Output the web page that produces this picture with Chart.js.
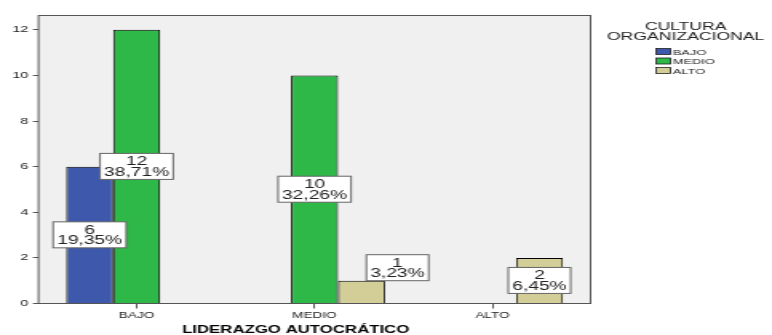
<!DOCTYPE html>
<html>
<head>
<meta charset="utf-8">
<script src="https://cdn.jsdelivr.net/npm/chart.js@4.4.0/dist/chart.umd.min.js"></script>
<style>
html, body { margin: 0; padding: 0; background: #fff; overflow: hidden; }
/* SPSS export is stretched sideways, so draw narrow and stretch the canvas */
#wrap { width: 483px; height: 335px; transform: scaleX(1.5983); transform-origin: 0 0; }
</style>
</head>
<body>
<div id="wrap"><canvas id="chart" width="483" height="335"></canvas></div>
<script>
// Data
const categories = ['BAJO', 'MEDIO', 'ALTO'];
const seriesNames = ['BAJO', 'MEDIO', 'ALTO'];
const bajoValues = [6, 0, 0];
const medioValues = [12, 10, 0];
const altoValues = [0, 1, 2];
const yTicks = [0, 2, 4, 6, 8, 10, 12];
const seriesColors = ['#3e58ac', '#2eb848', '#d3ce97'];
const xTitle = 'LIDERAZGO AUTOCRÁTICO';
const legendTitle = ['CULTURA', 'ORGANIZACIONAL'];

const FONT = 'Arial, "Liberation Sans", sans-serif';
const total = [...bajoValues, ...medioValues, ...altoValues].reduce((a, b) => a + b, 0);

// gray plot frame, a bit wider than the category area
const frameExtra = 5.7;
const framePlugin = {
    id: 'frame',
    beforeDatasetsDraw(chart) {
        const a = chart.chartArea;
        const ctx = chart.ctx;
        ctx.save();
        ctx.fillStyle = '#f0f0f0';
        ctx.fillRect(a.left - frameExtra, a.top, a.right - a.left + 2 * frameExtra, a.bottom - a.top);
        ctx.restore();
    },
    afterDatasetsDraw(chart) {
        const a = chart.chartArea;
        const ctx = chart.ctx;
        ctx.save();
        ctx.strokeStyle = '#555';
        ctx.lineWidth = 1;
        ctx.strokeRect(a.left - frameExtra, a.top + 0.5, a.right - a.left + 2 * frameExtra, a.bottom - a.top - 0.5);
        ctx.restore();
    }
};

// count + percent boxes
const labelPlugin = {
    id: 'barLabels',
    afterDatasetsDraw(chart) {
        const ctx = chart.ctx;
        ctx.save();
        ctx.font = '12px ' + FONT;
        ctx.textAlign = 'center';
        ctx.textBaseline = 'alphabetic';
        chart.data.datasets.forEach((ds, di) => {
            const meta = chart.getDatasetMeta(di);
            meta.data.forEach((bar, i) => {
                const v = ds.data[i];
                if (!v) return;
                const pct = (v / total * 100).toFixed(2).replace('.', ',') + '%';
                const w = ctx.measureText(pct).width + 5;
                const h = 26;
                const barH = bar.base - bar.y;
                let cx = bar.x;
                let cy = (bar.y + bar.base) / 2;
                if (barH < h) {
                    // too short: put the box above, next to the bar
                    cy = bar.y - h / 2;
                    cx = bar.x + 3 + w / 2;
                }
                ctx.fillStyle = '#fff';
                ctx.fillRect(cx - w / 2, cy - h / 2, w, h);
                ctx.strokeStyle = '#666';
                ctx.lineWidth = 1;
                ctx.strokeRect(cx - w / 2, cy - h / 2, w, h);
                ctx.fillStyle = '#222';
                ctx.fillText(String(v), cx, cy - 1);
                ctx.fillText(pct, cx, cy + 9.5);
            });
        });
        ctx.restore();
    }
};

// legend + axis title
const textPlugin = {
    id: 'texts',
    afterDraw(chart) {
        const ctx = chart.ctx;
        ctx.save();
        ctx.fillStyle = '#222';
        ctx.textAlign = 'center';
        ctx.textBaseline = 'alphabetic';
        ctx.font = '11px ' + FONT;
        ctx.fillText(legendTitle[0], 429, 30);
        ctx.fillText(legendTitle[1], 429, 39.5);

        ctx.textAlign = 'left';
        ctx.font = '8px ' + FONT;
        chart.data.datasets.forEach((ds, i) => {
            const y = 48.5 + i * 9.5;
            ctx.fillStyle = ds.backgroundColor;
            ctx.fillRect(410.5, y, 9, 6);
            ctx.strokeStyle = '#222';
            ctx.lineWidth = 0.8;
            ctx.strokeRect(410.5, y, 9, 6);
            ctx.fillStyle = '#222';
            ctx.fillText(ds.label, 421, y + 6.2);
        });

        ctx.textAlign = 'center';
        ctx.font = 'bold 10.5px ' + FONT;
        ctx.fillStyle = '#000';
        ctx.fillText(xTitle, 185, 333);
        ctx.restore();
    }
};

const seriesData = [bajoValues, medioValues, altoValues];

new Chart(document.getElementById('chart'), {
    type: 'bar',
    data: {
        labels: categories,
        datasets: seriesNames.map((name, i) => ({
            label: name,
            data: seriesData[i],
            backgroundColor: seriesColors[i],
            borderColor: '#000',
            borderWidth: 1,
            categoryPercentage: 0.792,
            barPercentage: 1
        }))
    },
    options: {
        responsive: false,
        animation: false,
        layout: {
            padding: { top: 15, right: 119.2, bottom: 0, left: 0 }
        },
        plugins: {
            legend: { display: false },
            tooltip: { enabled: false }
        },
        scales: {
            x: {
                offset: true,
                border: { display: false },
                grid: {
                    display: true,
                    drawOnChartArea: false,
                    offset: false,
                    tickLength: 5,
                    tickColor: '#555',
                    color: '#555'
                },
                ticks: {
                    font: { size: 8.5, family: FONT },
                    color: '#222',
                    padding: 2,
                    maxRotation: 0
                },
                afterFit(scale) { scale.height = 31.5; }
            },
            y: {
                min: 0,
                max: 12.65,
                border: { display: false },
                afterBuildTicks(scale) {
                    scale.ticks = yTicks.map(v => ({ value: v }));
                },
                grid: {
                    drawOnChartArea: false,
                    tickLength: 9.2,
                    tickColor: '#555',
                    color: '#555'
                },
                ticks: {
                    font: { size: 9, family: FONT },
                    color: '#222',
                    padding: 2.8
                },
                afterFit(scale) { scale.width = 29.8; }
            }
        }
    },
    plugins: [framePlugin, labelPlugin, textPlugin]
});
</script>
</body>
</html>
